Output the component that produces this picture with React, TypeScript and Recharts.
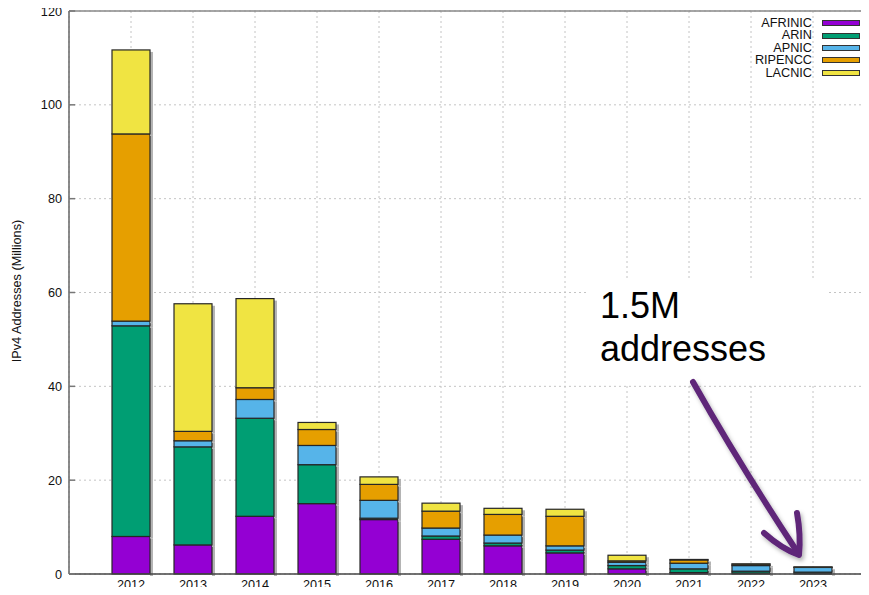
import React from "react";
import {
  BarChart,
  Bar,
  XAxis,
  YAxis,
  CartesianGrid,
  ReferenceLine,
  Label,
} from "recharts";

const years = ["2012", "2013", "2014", "2015", "2016", "2017", "2018", "2019", "2020", "2021", "2022", "2023"];
const afrinic = [8.0, 6.2, 12.3, 15.0, 11.6, 7.4, 6.0, 4.5, 1.1, 0.3, 0.2, 0.1];
const arin = [44.9, 20.9, 20.9, 8.3, 0.3, 0.7, 0.6, 0.6, 0.7, 0.8, 0.4, 0.3];
const apnic = [1.0, 1.3, 4.0, 4.1, 3.8, 1.7, 1.7, 0.9, 0.7, 1.2, 1.2, 1.0];
const ripencc = [39.9, 2.0, 2.5, 3.4, 3.4, 3.6, 4.4, 6.3, 0.3, 0.7, 0.3, 0.05];
const lacnic = [17.9, 27.2, 19.0, 1.5, 1.6, 1.7, 1.3, 1.5, 1.2, 0.1, 0.05, 0.05];
const yTicks = [0, 20, 40, 60, 80, 100, 120];

const series = [
  { key: "AFRINIC", values: afrinic, color: "#9400D3" },
  { key: "ARIN", values: arin, color: "#009E73" },
  { key: "APNIC", values: apnic, color: "#56B4E9" },
  { key: "RIPENCC", values: ripencc, color: "#E69F00" },
  { key: "LACNIC", values: lacnic, color: "#F0E442" },
];

const data = years.map((year, i) => {
  const row: Record<string, string | number> = { year };
  series.forEach((s) => {
    row[s.key] = s.values[i];
  });
  return row;
});

const FONT = "'Liberation Sans', Arial, sans-serif";

// gnuplot-like box with a grey shadow on its right side
const ShadowBar = (props: any) => {
  const { x, y, width, height, fill } = props;
  if (!height || height <= 0) return null;
  return (
    <g>
      <rect x={x + width} y={y + 2} width={3} height={height} fill="#b4b4b4" />
      <rect x={x} y={y} width={width} height={height} fill={fill} stroke="#262626" strokeWidth={1.2} />
    </g>
  );
};

// y tick: label on the left, short tick pointing into the plot
const YTick = (props: any) => {
  const { x, y, payload } = props;
  return (
    <g>
      <line x1={x + 7} x2={x + 13} y1={y} y2={y} stroke="#777" strokeWidth={1.5} />
      <text x={x} y={y} dy={4.5} textAnchor="end" fontSize={12.7} fontFamily={FONT} fill="#111">
        {payload.value}
      </text>
    </g>
  );
};

// legend drawn by hand so it does not take room from the plot
const LegendBox = () => (
  <div
    style={{
      position: "absolute",
      left: 730,
      top: 17,
      width: 130,
      fontFamily: FONT,
      fontSize: 12.7,
      color: "#111",
    }}
  >
    {series.map((s) => (
      <div
        key={s.key}
        style={{ display: "flex", justifyContent: "flex-end", alignItems: "center", height: 12.4, lineHeight: "12.4px" }}
      >
        <span>{s.key}</span>
        <span
          style={{
            display: "inline-block",
            width: 36,
            height: 4,
            marginLeft: 10,
            background: s.color,
            border: "1px solid #333",
          }}
        />
      </div>
    ))}
  </div>
);

export default function App() {
  return (
    <div
      style={{
        position: "relative",
        width: 869,
        height: 595,
        margin: -8,
        overflow: "hidden",
        background: "#fff",
      }}
    >
      <BarChart
        width={880}
        height={595}
        data={data}
        margin={{ top: 11, right: 5, bottom: 0, left: 0 }}
        barSize={38}
      >
        <CartesianGrid strokeDasharray="2 3" stroke="#c4c4c4" />
        <XAxis
          dataKey="year"
          height={21}
          padding={{ left: 31, right: 31 }}
          tickLine={false}
          tickSize={0}
          tickMargin={6}
          axisLine={{ stroke: "#444", strokeWidth: 1.5 }}
          tick={{ fontSize: 12.7, fontFamily: FONT, fill: "#111" }}
          interval={0}
        />
        <YAxis
          width={69}
          domain={[0, 120]}
          ticks={yTicks}
          tickLine={false}
          tickSize={0}
          tickMargin={7}
          axisLine={{ stroke: "#666", strokeWidth: 1.5 }}
          tick={<YTick />}
          interval={0}
        >
          <Label
            content={() => (
              <text
                transform="translate(21,291) rotate(-90)"
                textAnchor="middle"
                fontSize={12.7}
                fontFamily={FONT}
                fill="#111"
              >
                IPv4 Addresses (Millions)
              </text>
            )}
          />
        </YAxis>
        <ReferenceLine y={120} stroke="#888" strokeWidth={1.5} />
        {series.map((s) => (
          <Bar
            key={s.key}
            dataKey={s.key}
            stackId="a"
            fill={s.color}
            shape={<ShadowBar />}
            isAnimationActive={false}
          />
        ))}
      </BarChart>
      <LegendBox />
      <svg
        width={869}
        height={595}
        style={{ position: "absolute", left: 0, top: 0, pointerEvents: "none" }}
      >
        <defs>
          <filter id="arrowShadow" x="-20%" y="-20%" width="140%" height="140%">
            <feDropShadow dx="2" dy="3" stdDeviation="2" floodColor="#000" floodOpacity="0.3" />
          </filter>
        </defs>
        <rect x={588} y={278} width={239} height={105} fill="#fff" />
        <text x={600} y={318} fontSize={36} fontFamily={FONT} fill="#000">
          1.5M
        </text>
        <text x={600} y={361} fontSize={36} fontFamily={FONT} fill="#000">
          addresses
        </text>
        <g
          fill="none"
          stroke="#5E2779"
          strokeWidth={6}
          strokeLinecap="round"
          strokeLinejoin="round"
          filter="url(#arrowShadow)"
        >
          <path d="M693,382 Q738,462 798,553" />
          <path d="M764,533 Q782,549 799,555 Q801,535 797,513" />
        </g>
      </svg>
    </div>
  );
}
